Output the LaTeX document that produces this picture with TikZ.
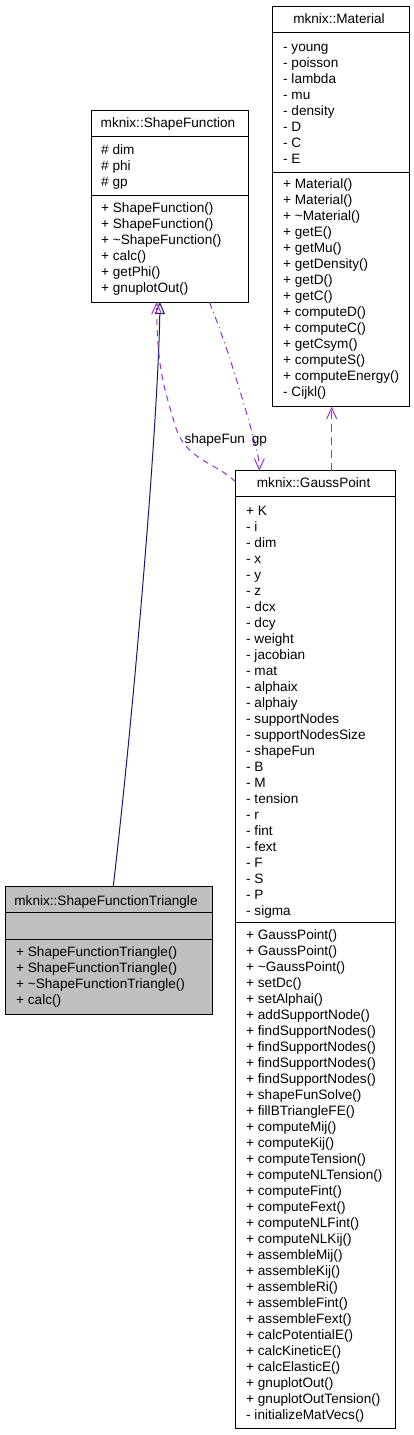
\documentclass[tikz,border=0pt]{standalone}
\usepackage{fontspec}
\setmainfont{Liberation Sans}
\usetikzlibrary{arrows.meta}
\definecolor{navyline}{HTML}{191970}
\definecolor{purp}{HTML}{9A32CD}
\definecolor{boxgray}{HTML}{BFBFBF}
\begin{document}
\begin{tikzpicture}[x=1pt,y=-1pt,
  classbox/.style={draw=black, line width=1pt, rectangle, inner sep=0pt, outer sep=0pt, anchor=north west},
  sepline/.style={draw=black, line width=1pt},
  txt/.style={anchor=base west, inner sep=0pt, font=\fontsize{13.6}{16}\selectfont},
  ttl/.style={anchor=base, inner sep=0pt, font=\fontsize{13.6}{16}\selectfont},
  inherit/.style={draw=navyline, line width=1pt, -{Triangle[open,length=12pt,width=10pt]}},
  usage/.style={draw=purp, line width=1pt, -{Straight Barb[length=11pt,width=10pt]}},
]
\useasboundingbox (0,0) rectangle (413,1435);

% ---------- mknix::Material ----------
\node[classbox, minimum width=137pt, minimum height=400.7pt] (mat) at (272.3,6) {};
\draw[sepline] (272.3,32.3) -- (409.3,32.3);
\draw[sepline] (272.3,172) -- (409.3,172);
\node[ttl] (mat-t) at (339,23.7) {mknix::Material};
\foreach \t [count=\i from 0] in {- young, - poisson, - lambda, - mu, - density, - D, - C, - E}
  \node[txt] (mat-a\i) at (283,{51+16*\i}) {\t};
\foreach \t [count=\i from 0] in {+ Material(), + Material(), + \textasciitilde Material(), + getE(), + getMu(), + getDensity(), + getD(), + getC(), + computeD(), + computeC(), + getCsym(), + computeS(), + computeEnergy(), - Cijkl()}
  \node[txt] (mat-m\i) at (283,{188.7+16*\i}) {\t};

% ---------- mknix::ShapeFunction ----------
\node[classbox, minimum width=157pt, minimum height=192pt] (sf) at (91.3,110) {};
\draw[sepline] (91.3,136) -- (248.3,136);
\draw[sepline] (91.3,195.5) -- (248.3,195.5);
\node[ttl] (sf-t) at (168,127.7) {mknix::ShapeFunction};
\foreach \t [count=\i from 0] in {\# dim, \# phi, \# gp}
  \node[txt] (sf-a\i) at (101,{154.7+16*\i}) {\t};
\foreach \t [count=\i from 0] in {+ ShapeFunction(), + ShapeFunction(), + \textasciitilde ShapeFunction(), + calc(), + getPhi(), + gnuplotOut()}
  \node[txt] (sf-m\i) at (101,{212.7+16*\i}) {\t};

% ---------- mknix::GaussPoint ----------
\node[classbox, minimum width=160.2pt, minimum height=957.3pt] (gp) at (235.5,470.7) {};
\draw[sepline] (235.5,496.7) -- (395.7,496.7);
\draw[sepline] (235.5,922.7) -- (395.7,922.7);
\node[ttl] (gp-t) at (313.6,487.7) {mknix::GaussPoint};
\foreach \t [count=\i from 0] in {+ K, - i, - dim, - x, - y, - z, - dcx, - dcy, - weight, - jacobian, - mat, - alphaix, - alphaiy, - supportNodes, - supportNodesSize, - shapeFun, - B, - M, - tension, - r, - fint, - fext, - F, - S, - P, - sigma}
  \node[txt] (gp-a\i) at (246,{515+16*\i}) {\t};
\foreach \t [count=\i from 0] in {+ GaussPoint(), + GaussPoint(), + \textasciitilde GaussPoint(), + setDc(), + setAlphai(), + addSupportNode(), + findSupportNodes(), + findSupportNodes(), + findSupportNodes(), + findSupportNodes(), + shapeFunSolve(), + fillBTriangleFE(), + computeMij(), + computeKij(), + computeTension(), + computeNLTension(), + computeFint(), + computeFext(), + computeNLFint(), + computeNLKij(), + assembleMij(), + assembleKij(), + assembleRi(), + assembleFint(), + assembleFext(), + calcPotentialE(), + calcKineticE(), + calcElasticE(), + gnuplotOut(), + gnuplotOutTension(), - initializeMatVecs()}
  \node[txt] (gp-m\i) at (246,{939.3+16*\i}) {\t};

% ---------- mknix::ShapeFunctionTriangle ----------
\node[classbox, fill=boxgray, minimum width=207.3pt, minimum height=128pt] (tri) at (5,886) {};
\draw[sepline] (5,912.3) -- (212.3,912.3);
\draw[sepline] (5,939.3) -- (212.3,939.3);
\node[ttl] (tri-t) at (106,905) {mknix::ShapeFunctionTriangle};
\foreach \t [count=\i from 0] in {+ ShapeFunctionTriangle(), + ShapeFunctionTriangle(), + \textasciitilde ShapeFunctionTriangle(), + calc()}
  \node[txt] (tri-m\i) at (16,{956+16*\i}) {\t};

% ---------- connectors ----------
% inheritance
\draw[inherit] ([xshift=108.3pt]tri.north west) .. controls (135,700) and (158,420) .. ([xshift=68.7pt]sf.south west);
% shapeFun
\draw[usage, dash pattern=on 6pt off 5pt] ([yshift=-11pt]gp.north west) .. controls (215,462) and (185,460) .. (175,425) .. controls (165,390) and (156.7,370) .. ([xshift=65.4pt]sf.south west);
% gp
\draw[usage, dash pattern=on 7pt off 4pt on 1pt off 4pt] ([xshift=118pt]sf.south west) .. controls (225,340) and (240,390) .. (250,425) .. controls (255,445) and (259.3,455) .. ([xshift=23.8pt]gp.north west);
% material
\draw[usage, dash pattern=on 8pt off 5pt] ([xshift=96.2pt]gp.north west) -- ([xshift=59.4pt]mat.south west);
% labels
\node[txt] (l-shapeFun) at (184.3,443) {shapeFun};
\node[txt] (l-gp) at (251.7,443) {gp};
\end{tikzpicture}
\end{document}
